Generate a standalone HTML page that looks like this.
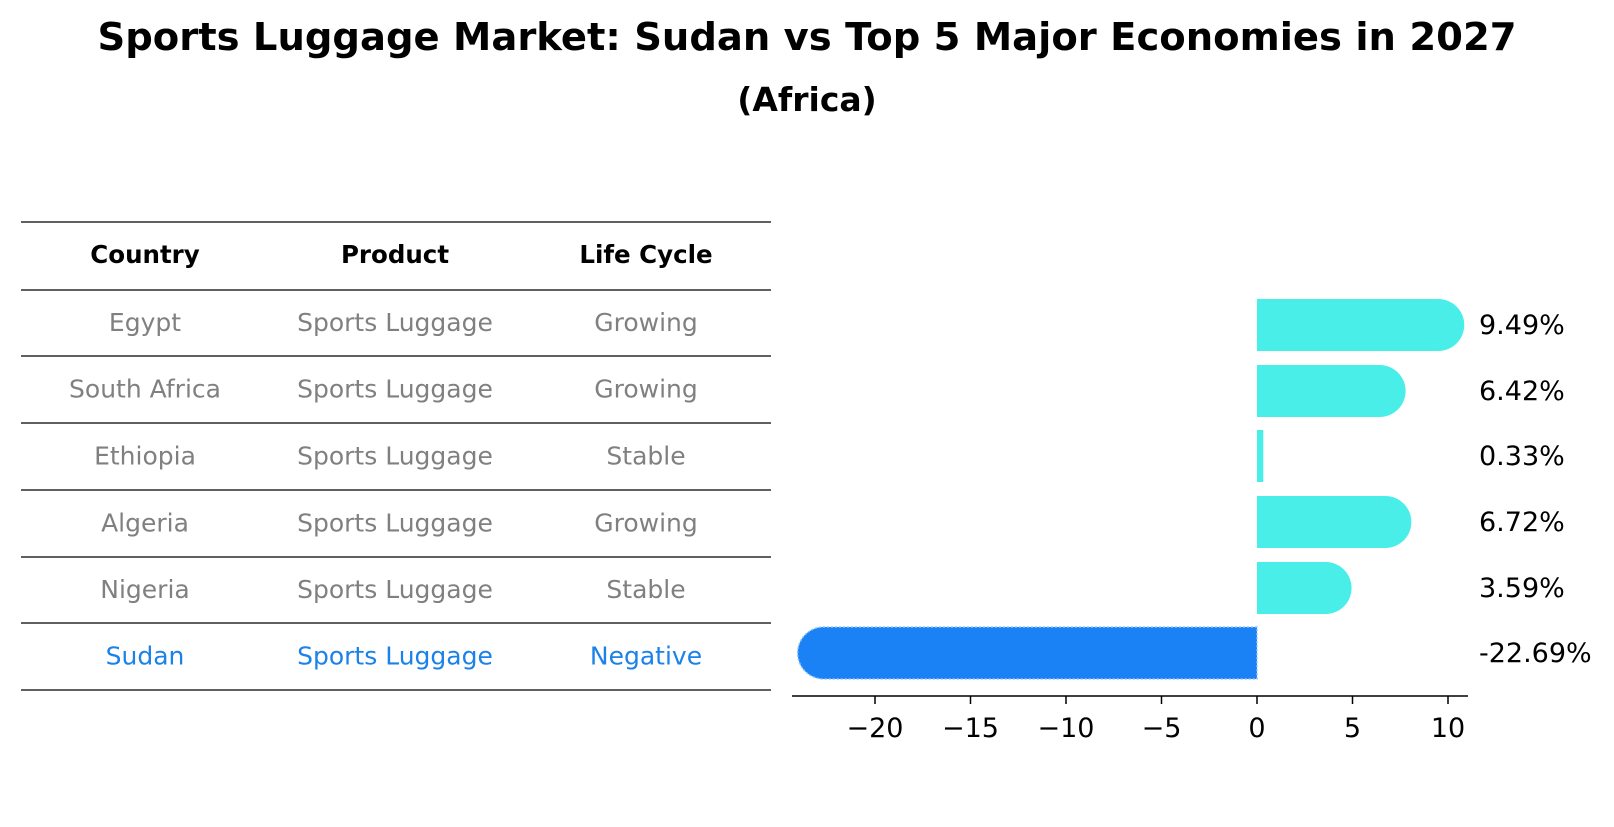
<!DOCTYPE html>
<html><head><meta charset="utf-8"><style>
body{margin:0;background:#fff;font-family:"DejaVu Sans","Liberation Sans",sans-serif}
svg text{font-family:"DejaVu Sans","Liberation Sans",sans-serif}
</style></head><body>
<svg width="1614" height="823" xmlns="http://www.w3.org/2000/svg">
<text x="807" y="50" text-anchor="middle" font-size="38.5" font-weight="bold">Sports Luggage Market: Sudan vs Top 5 Major Economies in 2027</text>
<text x="807" y="111" text-anchor="middle" font-size="33" font-weight="bold">(Africa)</text>
<g id="table"></g>
<g id="bars"></g>
</svg>
<script>
const countries=["Egypt","South Africa","Ethiopia","Algeria","Nigeria","Sudan"];
const products=["Sports Luggage","Sports Luggage","Sports Luggage","Sports Luggage","Sports Luggage","Sports Luggage"];
const cycles=["Growing","Growing","Stable","Growing","Stable","Negative"];
const values=[9.49,6.42,0.33,6.72,3.59,-22.69];
const ticks=[-20,-15,-10,-5,0,5,10];
const NS="http://www.w3.org/2000/svg";
function mk(t,a,p){const e=document.createElementNS(NS,t);for(const k in a)e.setAttribute(k,a[k]);p.appendChild(e);return e;}
const tb=document.getElementById('table');
const lineY=[222,290,356,423,490,557,623,690];
lineY.forEach(y=>{const l=mk('line',{x1:21,x2:771,y1:y,y2:y,stroke:'#000','stroke-width':1.3},tb);

});
const colX=[145,395,646];
["Country","Product","Life Cycle"].forEach((h,i)=>{const t=mk('text',{x:colX[i],y:263,'text-anchor':'middle','font-size':24.5,'font-weight':'bold'},tb);t.textContent=h;

});
countries.forEach((c,r)=>{const y=(lineY[r+1]+lineY[r+2])/2+8;const col=r==5?'#1a82e8':'#808080';
[c,products[r],cycles[r]].forEach((v,i)=>{const t=mk('text',{x:colX[i],y:y,'text-anchor':'middle','font-size':25,fill:col},tb);t.textContent=v;

});});
const bg=document.getElementById('bars');
const x0=1257,ppu=19.1;const X=v=>x0+v*ppu;
const rowY=[325,391,456,522,588,653];const h=52,rad=26;
values.forEach((v,i)=>{const yc=rowY[i],xe=X(v),w=Math.abs(xe-x0);const col=v<0?'#1a82f5':'#4aeee8';let d;
if(w>rad){const s=v<0?-1:1;d=`M${x0},${yc-h/2} L${xe},${yc-h/2} A${rad},${rad} 0 0 ${s>0?1:0} ${xe},${yc+h/2} L${x0},${yc+h/2} Z`;}
else d=`M${x0},${yc-h/2} L${xe},${yc-h/2} L${xe},${yc+h/2} L${x0},${yc+h/2} Z`;
const p=mk('path',{d:d,fill:col},bg);
if(v<0){p.setAttribute('stroke','#8fc4ff');p.setAttribute('stroke-width','1.5');p.setAttribute('stroke-dasharray','2 2');}


const t=mk('text',{x:1479,y:yc+9,'font-size':27},bg);t.textContent=v.toFixed(2)+'%';

});
const ax=mk('line',{x1:792,x2:1468,y1:696,y2:696,stroke:'#000','stroke-width':1.5},bg);


ticks.forEach(v=>{const tk=mk('line',{x1:X(v),x2:X(v),y1:696,y2:704,stroke:'#000','stroke-width':1.5},bg);


const t=mk('text',{x:X(v),y:737,'text-anchor':'middle','font-size':27},bg);t.textContent=v<0?'\u2212'+(-v):String(v);

});
</script>
</body></html>
